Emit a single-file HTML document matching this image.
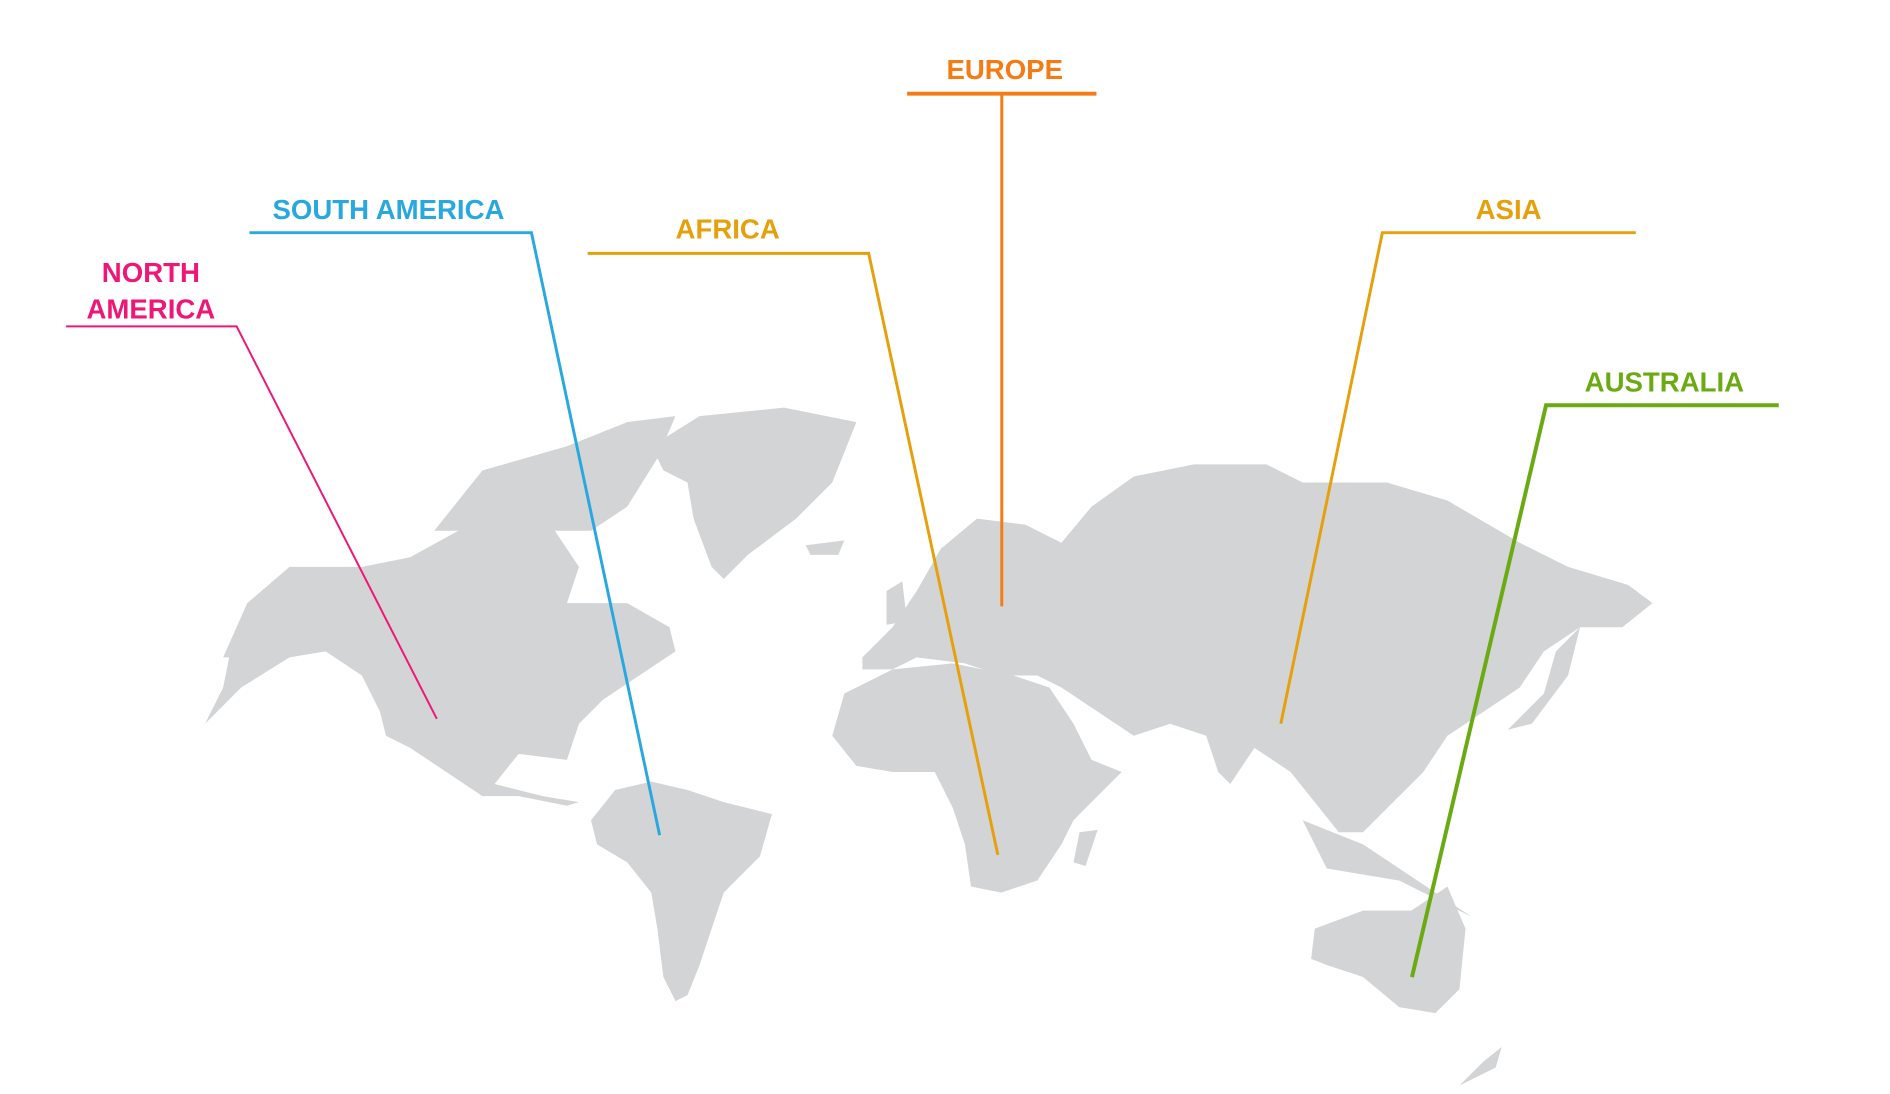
<!DOCTYPE html>
<html><head><meta charset="utf-8"><style>
html,body{margin:0;padding:0;background:#fff;}
svg{display:block}
text{font-family:"Liberation Sans",sans-serif;font-weight:bold;font-size:28px;text-anchor:middle}
</style></head><body>
<svg width="1890" height="1094" viewBox="0 0 1890 1094">
<g transform="scale(0.986)">
<g transform="scale(1.2233)" fill="#d3d4d6">
<polygon points="185,545 205,500 240,470 300,470 340,462 380,440 420,430 460,440 480,470 470,500 520,500 555,520 560,540 530,560 500,580 480,600 470,630 430,625 410,650 450,660 480,665 470,668 430,660 400,660 370,640 340,620 320,610 315,590 300,560 270,540 240,545 200,570 170,600 185,570 190,545"/>
<polygon points="360,440 400,390 470,370 520,350 560,345 545,380 520,420 490,440 430,440"/>
<polygon points="540,370 580,345 650,338 710,350 690,400 660,430 620,460 600,480 590,470 575,430 570,400 550,390"/>
<polygon points="490,680 510,655 540,648 570,655 600,665 640,675 630,710 600,740 590,770 580,800 570,825 560,830 550,810 545,770 540,740 520,715 495,700"/>
<polygon points="690,610 700,575 740,555 790,550 840,560 870,570 890,600 905,630 930,640 890,680 880,700 860,730 830,740 805,735 800,700 790,670 775,640 740,640 710,635"/>
<polygon points="895,690 910,688 900,718 890,715"/>
<polygon points="715,545 740,520 760,490 780,455 810,430 850,435 880,450 905,420 940,395 990,385 1050,385 1080,400 1150,400 1200,415 1260,450 1300,470 1350,485 1370,500 1345,520 1310,520 1280,540 1260,570 1230,590 1200,610 1180,640 1160,660 1130,690 1110,690 1090,665 1070,640 1040,620 1020,650 1010,640 1000,610 970,600 940,610 910,590 880,570 860,560 830,560 800,550 760,545 740,555 715,555"/>
<polygon points="1080,680 1130,700 1190,740 1220,760 1160,730 1100,720"/>
<polygon points="1090,770 1130,755 1170,755 1200,735 1215,770 1210,820 1190,840 1160,835 1130,810 1100,800 1087,795"/>
<polygon points="1290,540 1310,520 1300,560 1270,600 1250,605 1280,575"/>
<polygon points="735,490 748,482 752,515 735,518"/>
<polygon points="668,452 700,448 695,460 672,460"/>
<polygon points="1230,880 1245,868 1240,885 1210,900"/>
</g>
<g fill="none" stroke-linejoin="miter">
<polyline stroke="#f57c14" stroke-width="4" points="920,95 1112,95"/>
<polyline stroke="#f57c14" stroke-width="3" points="1016,95 1016,615"/>
<polyline stroke="#29a8e0" stroke-width="3" points="253,236 539,236 669,847"/>
<polyline stroke="#e5a00c" stroke-width="3" points="596,257 881,257 1012,867"/>
<polyline stroke="#ee1777" stroke-width="2" points="67,331 240,331 443,729"/>
<polyline stroke="#e5a00c" stroke-width="3" points="1659,236 1402,236 1299,734"/>
<polyline stroke="#6aaa12" stroke-width="4" points="1804,411 1568,411 1432,991"/>
</g>
<text x="1019" y="80" fill="#f57c14">EUROPE</text>
<text x="394" y="222" fill="#29a8e0">SOUTH AMERICA</text>
<text x="738" y="242" fill="#e5a00c">AFRICA</text>
<text x="153" y="286" fill="#ee1777">NORTH</text>
<text x="153" y="323" fill="#ee1777">AMERICA</text>
<text x="1530" y="222" fill="#e5a00c">ASIA</text>
<text x="1688" y="397" fill="#6aaa12">AUSTRALIA</text>
</g>
</svg>
</body></html>
